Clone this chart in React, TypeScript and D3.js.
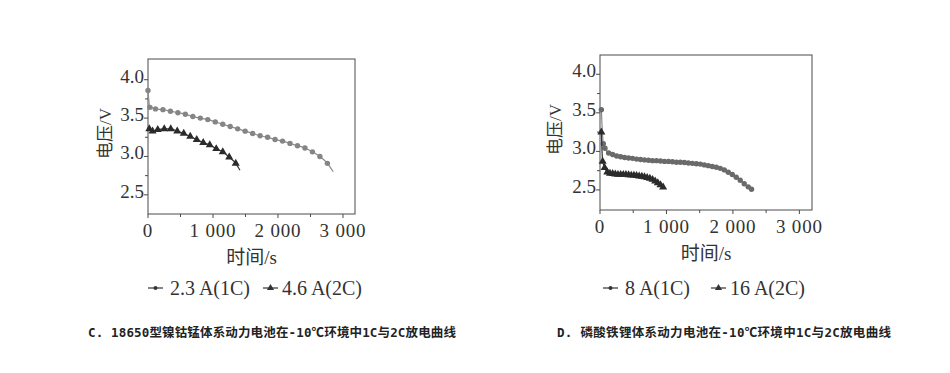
import * as d3 from 'd3';

// left panel: NCM 18650, 1C / 2C
const ncm1C: [number, number][] = [
  [0, 3.86], [30, 3.64], [115, 3.62], [230, 3.61], [345, 3.59], [460, 3.57], [575, 3.55],
  [690, 3.52], [805, 3.5], [920, 3.48], [1035, 3.45], [1150, 3.42], [1265, 3.39], [1380, 3.36],
  [1495, 3.33], [1610, 3.3], [1725, 3.27], [1840, 3.25], [1955, 3.22], [2070, 3.2], [2185, 3.17],
  [2300, 3.14], [2415, 3.11], [2530, 3.06], [2645, 3.0], [2760, 2.91], [2850, 2.8],
];
const ncm2C: [number, number][] = [
  [20, 3.36], [70, 3.33], [150, 3.35], [250, 3.36], [350, 3.36], [450, 3.33], [550, 3.3],
  [650, 3.26], [750, 3.22], [850, 3.18], [950, 3.15], [1050, 3.1], [1150, 3.06], [1250, 2.99],
  [1350, 2.91], [1415, 2.82],
];

// right panel: LFP, 1C / 2C
const lfp1C: [number, number][] = [
  [20, 3.54], [50, 3.1], [75, 3.04], [130, 2.98], [190, 2.96], [250, 2.94], [310, 2.93],
  [370, 2.92], [430, 2.915], [490, 2.91], [550, 2.9], [610, 2.895], [670, 2.89], [730, 2.885],
  [790, 2.88], [850, 2.88], [910, 2.875], [970, 2.87], [1030, 2.87], [1090, 2.865], [1150, 2.86],
  [1210, 2.86], [1270, 2.855], [1330, 2.85], [1390, 2.845], [1450, 2.84], [1510, 2.835],
  [1570, 2.825], [1630, 2.815], [1690, 2.805], [1750, 2.795], [1810, 2.78], [1870, 2.76],
  [1930, 2.73], [1990, 2.7], [2050, 2.665], [2110, 2.625], [2170, 2.58], [2230, 2.54], [2280, 2.51],
];
const lfp2C: [number, number][] = [
  [20, 3.25], [40, 2.87], [70, 2.79], [110, 2.73], [150, 2.715], [190, 2.71], [230, 2.705],
  [270, 2.7], [310, 2.7], [350, 2.7], [390, 2.7], [430, 2.695], [470, 2.69], [510, 2.69],
  [550, 2.685], [590, 2.68], [630, 2.675], [670, 2.67], [710, 2.66], [750, 2.65], [790, 2.635],
  [830, 2.615], [870, 2.59], [910, 2.565], [950, 2.535], [970, 2.52],
];

const xMajor = [0, 1000, 2000, 3000];
const xMinor = [500, 1500, 2500];
const yMajor = [2.5, 3.0, 3.5, 4.0];
const yMinor = [2.75, 3.25, 3.75];

const leftLegend = ['2.3 A(1C)', '4.6 A(2C)'];
const rightLegend = ['8 A(1C)', '16 A(2C)'];
const captions = [
  'C. 18650型镍钴锰体系动力电池在-10℃环境中1C与2C放电曲线',
  'D. 磷酸铁锂体系动力电池在-10℃环境中1C与2C放电曲线',
];

const serif = '"Liberation Serif", "Noto Sans CJK SC", serif';
const fmtX = (d: number) => (d === 0 ? '0' : d3.format(',')(d).replace(',', ' '));

type PanelProps = {
  xr: [number, number];
  yr: [number, number];
  xd: [number, number];
  yd: [number, number];
  s1: [number, number][];
  s2: [number, number][];
  legend: string[];
  legX: [number, number];
  dot: string;
  lastDot: boolean;
  titleOff: number;
};

const Panel = ({ xr, yr, xd, yd, s1, s2, legend, legX, dot, lastDot, titleOff }: PanelProps) => {
  const x = d3.scaleLinear().domain(xd).range(xr);
  const y = d3.scaleLinear().domain(yd).range(yr);
  const line = d3
    .line<[number, number]>()
    .x(d => x(d[0]))
    .y(d => y(d[1]))
    .curve(d3.curveMonotoneX);
  const tri = d3.symbol().type(d3.symbolTriangle).size(28)()!;
  const triSmall = d3.symbol().type(d3.symbolTriangle).size(22)()!;
  const axisColor = '#4a4a4a';
  const txt = '#333';
  const [x0, x1] = xr;
  const [yb, yt] = yr;
  const s1Marks = lastDot ? s1 : s1.slice(0, -1);
  const legY = 288;

  return (
    <g>
      <rect x={x0} y={yt} width={x1 - x0} height={yb - yt} fill="none" stroke={axisColor} strokeWidth={1} />
      {xMajor.map(t => (
        <g key={'xm' + t}>
          <line x1={x(t)} x2={x(t)} y1={yb} y2={yb + 4} stroke={axisColor} />
          <text
            x={x(t)}
            y={yb + 23}
            textAnchor="middle"
            fontFamily={serif}
            fontSize={19}
            letterSpacing={0.8}
            fill={txt}
          >
            {fmtX(t)}
          </text>
        </g>
      ))}
      {xMinor.map(t => (
        <line key={'xn' + t} x1={x(t)} x2={x(t)} y1={yb} y2={yb + 3} stroke={axisColor} />
      ))}
      {yMajor.map(v => (
        <g key={'ym' + v}>
          <line x1={x0 - 4} x2={x0} y1={y(v)} y2={y(v)} stroke={axisColor} />
          <text x={x0 - 4} y={y(v) + 3} textAnchor="end" fontFamily={serif} fontSize={19} fill={txt}>
            {v.toFixed(1)}
          </text>
        </g>
      ))}
      {yMinor.map(v => (
        <line key={'yn' + v} x1={x0 - 3} x2={x0} y1={y(v)} y2={y(v)} stroke={axisColor} />
      ))}
      <text
        x={(x0 + x1) / 2}
        y={yb + 50}
        textAnchor="middle"
        fontFamily={serif}
        fontSize={19}
        fill={txt}
      >
        时间/s
      </text>
      <text
        transform={`translate(${x0 - titleOff},${(yb + yt) / 2 - 3}) rotate(-90)`}
        textAnchor="middle"
        fontFamily={serif}
        fontSize={17}
        fill={txt}
      >
        电压/V
      </text>

      <path d={line(s1)!} fill="none" stroke="#8a8a8a" strokeWidth={1.2} />
      {s1Marks.map((d, i) => (
        <circle key={'c' + i} cx={x(d[0])} cy={y(d[1])} r={2.7} fill={dot} />
      ))}
      <path d={line(s2)!} fill="none" stroke="#333" strokeWidth={1.2} />
      {s2.slice(0, -1).map((d, i) => (
        <path key={'t' + i} d={tri} transform={`translate(${x(d[0])},${y(d[1])})`} fill="#2b2b2b" />
      ))}

      <line x1={legX[0]} x2={legX[0] + 15} y1={legY} y2={legY} stroke="#333" strokeWidth={1.2} />
      <circle cx={legX[0] + 7.5} cy={legY} r={2} fill="#333" />
      <text x={legX[0] + 22} y={legY + 7} fontFamily={serif} fontSize={20} fill={txt}>
        {legend[0]}
      </text>
      <line x1={legX[1]} x2={legX[1] + 15} y1={legY} y2={legY} stroke="#333" strokeWidth={1.2} />
      <path d={triSmall} transform={`translate(${legX[1] + 7.5},${legY})`} fill="#333" />
      <text x={legX[1] + 19} y={legY + 7} fontFamily={serif} fontSize={20} fill={txt}>
        {legend[1]}
      </text>
    </g>
  );
};

const App = () => {
  const capFont = '"DejaVu Sans Mono", "Noto Sans CJK SC", monospace';
  return (
    <svg
      width={950}
      height={373}
      style={{ position: 'absolute', left: 0, top: 0, background: '#fff' }}
    >
      <rect width={950} height={373} fill="#fff" />
      <Panel
        xr={[148, 355]}
        yr={[214, 59]}
        xd={[0, 3185]}
        yd={[2.25, 4.27]}
        s1={ncm1C}
        s2={ncm2C}
        legend={leftLegend}
        legX={[148, 263]}
        dot="#858585"
        lastDot={false}
        titleOff={37}
      />
      <Panel
        xr={[600, 812]}
        yr={[210, 55]}
        xd={[0, 3190]}
        yd={[2.24, 4.25]}
        s1={lfp1C}
        s2={lfp2C}
        legend={rightLegend}
        legX={[603, 711]}
        dot="#6a6a6a"
        lastDot={true}
        titleOff={39}
      />
      <text x={88} y={337} fontFamily={capFont} fontSize={12.5} fontWeight={700} letterSpacing={0.15} fill="#222">
        {captions[0]}
      </text>
      <text x={557} y={337} fontFamily={capFont} fontSize={12.5} fontWeight={700} letterSpacing={0.3} fill="#222">
        {captions[1]}
      </text>
    </svg>
  );
};

export default App;
